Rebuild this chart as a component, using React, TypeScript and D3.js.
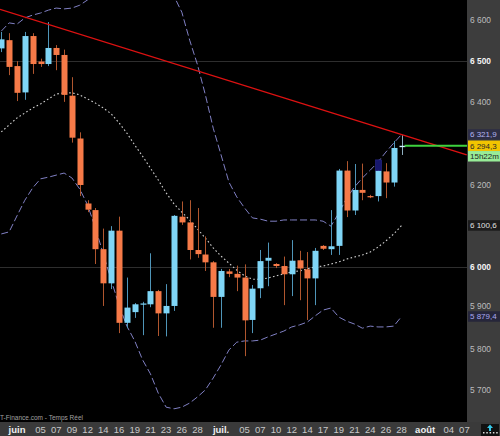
import React from 'react';
import * as d3 from 'd3';

// ---- data (daily sessions, index 0..51) ----
const opens = [6531,6551,6488,6424,6561,6499,6493,6532,6515,6416,6312,6154,6138,6043,5960,6088,5864,5890,5910,5909,5941,5887,5905,6122,6108,6041,6030,6011,5927,5989,5983,5974,5871,5948,6015,6007,6002,5982,6016,5994,5972,6051,6043,6051,6234,6137,6187,6172,6172,6232,6205,6291];
const highs = [6571,6568,6500,6571,6568,6506,6595,6539,6528,6461,6327,6162,6143,6093,6099,6122,5974,5912,5915,6033,5944,5958,6126,6159,6162,6143,6074,6014,5995,5995,6003,6006,5956,6041,6059,6009,6025,6065,6039,6036,6046,6053,6138,6238,6257,6250,6251,6175,6260,6252,6306,6320];
const lows = [6522,6466,6403,6406,6469,6486,6488,6478,6401,6302,6172,6133,6007,5905,5946,5839,5851,5876,5834,5902,5832,5831,5893,6102,6018,6022,5990,5852,5852,5975,5941,5783,5839,5924,5953,5997,5907,5929,5919,5871,5907,6041,6029,6029,6121,6126,6162,6167,6159,6167,6195,6272];
const closes = [6553,6486,6423,6561,6493,6493,6532,6515,6418,6314,6199,6139,6043,5960,6088,5864,5901,5909,5911,5941,5887,5905,6124,6108,6041,6031,6011,5927,5990,5983,5974,5870,5947,6014,6022,6002,5982,6015,5996,5972,6039,6044,6050,6234,6137,6187,6180,6170,6234,6205,6289,6294.3];

const upperBand = [6573,6593,6590,6605,6612,6617,6624,6629,6627,6629,6636,6649,6663,6683,6702,6722,6736,6746,6746,6736,6717,6688,6658,6619,6551,6491,6418,6337,6272,6206,6170,6143,6119,6116,6111,6111,6114,6114,6114,6114,6114,6111,6099,6131,6167,6194,6216,6235,6255,6279,6301,6321.9];
const middleBand = [6328,6345,6362,6374,6386,6396,6408,6420,6423,6423,6418,6408,6398,6386,6372,6350,6325,6296,6269,6240,6211,6180,6153,6133,6114,6092,6070,6046,6026,6009,5992,5978,5970,5970,5973,5978,5983,5988,5990,5995,6000,6002,6007,6012,6019,6024,6029,6036,6048,6063,6080,6100.6];
const lowerBand = [6080,6085,6124,6162,6192,6214,6218,6223,6228,6216,6189,6150,6094,6031,5968,5907,5856,5820,5774,5740,5693,5659,5655,5659,5669,5684,5701,5730,5762,5798,5817,5820,5820,5822,5830,5837,5844,5854,5859,5866,5881,5895,5900,5878,5868,5861,5851,5856,5854,5854,5856,5879.4];

// highlighted box on session 48
const boxIndex = 48;
const boxTop = 6260;
const boxBottom = 6234;

// trend line (two anchor points: session index, value)
const trendIdx = [-0.17, 59.3];
const trendVal = [6626, 6272];

// axis ticks
const xTickIdx = [2,5,7,9,11,13,15,17,19,21,23,25,28,31,33,35,37,39,41,43,45,47,49,51,54,57,59];
const xTickLabels = ['juin','05','07','09','12','14','16','19','21','23','26','28','juil.','05','07','10','12','14','17','19','21','24','26','28','août','04','07'];
const monthLabels = ['juin','juil.','août'];
const yTicks = [5700,5800,5900,6000,6100,6200,6300,6400,6500,6600];
const yTickLabels = ['5 700','5 800','5 900','6 000','6 100','6 200','6 300','6 400','6 500','6 600'];
const majorTicks = [6000, 6500];

const timeLeft = '15h22m';
const sourceText = 'T-Finance.com - Temps Réel';

const W = 500, H = 436, PW = 467, PH = 422;
const FONT = 'Liberation Sans, Arial, sans-serif';

const fmt = (v: number) => {
  const s = v.toFixed(1).replace('.', ',');
  return s.replace(/^(\d)(\d{3})/, '$1 $2');
};

export default function App() {
  const x = d3.scaleLinear().domain([0, 51]).range([1.3, 401.6]);
  const y = d3.scaleLinear().domain([5700, 6600]).range([390.3, 20]);
  const n = opens.length;
  const bandLine = d3.line<number>().x((_, i) => x(i)).y(d => y(d));
  const bw = 6;

  const tags = [
    { v: upperBand[n - 1], text: fmt(upperBand[n - 1]), bg: '#2e2e44', fg: '#b4b4f0' },
    { v: closes[n - 1], text: fmt(closes[n - 1]), bg: '#f2c400', fg: '#2a2a2a' },
    { v: middleBand[n - 1], text: fmt(middleBand[n - 1]), bg: '#1c1c1c', fg: '#e0e0e0' },
    { v: lowerBand[n - 1], text: fmt(lowerBand[n - 1]), bg: '#26263a', fg: '#a8a8f0' },
  ];
  const tagH = 10.5;
  const tagYs = tags.map(t => y(t.v)).concat([y(closes[n - 1]) + tagH]);
  const hidden = (t: number) => tagYs.some(ty => Math.abs(ty - y(t)) < 6);
  const nudge = (t: number) => {
    let d = 0;
    tagYs.forEach(ty => {
      const diff = y(t) - ty;
      if (Math.abs(diff) < 10.5) d += diff > 0 ? 1.6 : -1.6;
    });
    return d;
  };

  return (
    <svg width={W} height={H} style={{ position: 'absolute', left: 0, top: 0, background: '#000' }} fontFamily={FONT}>
      <defs>
        <clipPath id="plotclip"><rect x={0} y={0} width={PW} height={PH} /></clipPath>
      </defs>
      <rect x={0} y={0} width={W} height={H} fill="#000" />
      {/* grid */}
      {majorTicks.map(t => (
        <line key={t} x1={0} x2={PW} y1={Math.round(y(t)) + 0.5} y2={Math.round(y(t)) + 0.5} stroke="#2e2e2e" strokeWidth={1} />
      ))}
      <g clipPath="url(#plotclip)">
        {/* bands */}
        <path d={bandLine(upperBand) || ''} fill="none" stroke="#8080c4" strokeWidth={1} strokeDasharray="7,3" />
        <path d={bandLine(lowerBand) || ''} fill="none" stroke="#8080c4" strokeWidth={1} strokeDasharray="7,3" />
        <path d={bandLine(middleBand) || ''} fill="none" stroke="#cfcfcf" strokeWidth={1.1} strokeDasharray="1.6,2.4" />
        {/* candles */}
        {d3.range(n).map(i => {
          const up = closes[i] >= opens[i];
          const last = i === n - 1;
          const body = last ? '#cdf3ff' : up ? '#7fd5f6' : '#f67a48';
          const wick = last ? '#8fb0c0' : up ? '#4f95b8' : '#b0562e';
          const cx = Math.round(x(i)) + 0.5;
          const top = y(Math.max(opens[i], closes[i]));
          const bot = y(Math.min(opens[i], closes[i]));
          return (
            <g key={i}>
              <line x1={cx} x2={cx} y1={y(highs[i])} y2={y(lows[i])} stroke={wick} strokeWidth={1} />
              <rect x={cx - bw / 2} y={top} width={bw} height={Math.max(1.2, bot - top)} fill={body} />
            </g>
          );
        })}
        {/* highlight box */}
        <rect x={Math.round(x(boxIndex)) + 0.5 - bw / 2} y={y(boxTop)} width={bw} height={y(boxBottom) - y(boxTop)} fill="#17176e" stroke="#2a2a90" strokeWidth={0.6} />
        {/* trend line */}
        <line x1={x(trendIdx[0])} y1={y(trendVal[0])} x2={x(trendIdx[1])} y2={y(trendVal[1])} stroke="#dd1111" strokeWidth={1.4} />
        {/* last price line */}
        <line x1={x(n - 1) + 3} x2={PW} y1={y(closes[n - 1])} y2={y(closes[n - 1])} stroke="#3ed23e" strokeWidth={2} />
      </g>
      {/* source */}
      <text x={0} y={420} fontSize={6.5} fill="#a0a0a0">{sourceText}</text>
      {/* right panel */}
      <rect x={PW} y={0} width={W - PW} height={H} fill="#3d3d3d" />
      {/* bottom bar */}
      <rect x={0} y={PH} width={W} height={H - PH} fill="#3a3a3a" />
      {yTicks.map((t, k) => {
        if (hidden(t)) return null;
        const major = majorTicks.includes(t);
        return (
          <text key={t} x={470} y={y(t) + nudge(t)} dy="0.35em" fontSize={8.4} fill={major ? '#f4f4f4' : '#bcbcbc'} fontWeight={major ? 'bold' : 'normal'}>{yTickLabels[k]}</text>
        );
      })}
      {tags.map((tg, k) => (
        <g key={k}>
          <rect x={PW + 1} y={y(tg.v) - tagH / 2} width={W - PW - 1} height={tagH} fill={tg.bg} />
          <text x={470} y={y(tg.v)} dy="0.35em" fontSize={8} fill={tg.fg}>{tg.text}</text>
        </g>
      ))}
      <rect x={PW + 1} y={y(closes[n - 1]) + tagH / 2} width={W - PW - 1} height={tagH} fill="#98ec98" />
      <text x={470} y={y(closes[n - 1]) + tagH} dy="0.35em" fontSize={8} fill="#1e1e1e">{timeLeft}</text>
      {/* x labels */}
      {xTickIdx.map((ti, k) => {
        const lab = xTickLabels[k];
        const m = monthLabels.includes(lab);
        return (
          <text key={k} x={x(ti)} y={433} textAnchor="middle" fontSize={9.5} fill={m ? '#f0f0f0' : '#c8c8c8'} fontWeight={m ? 'bold' : 'normal'}>{lab}</text>
        );
      })}
      {/* corner icon */}
      <rect x={481} y={424} width={18} height={12} fill="#111" />
      <path d="M490,424.5 L487,428 L493,428 Z" fill="#35c8e8" />
      <rect x={489} y={428} width={2} height={3} fill="#35c8e8" />
      {[0, 1, 2, 3, 4].map(k => (
        <rect key={k} x={483 + k * 3.3} y={432} width={1.5} height={1.5} fill="#ddd" />
      ))}
    </svg>
  );
}
